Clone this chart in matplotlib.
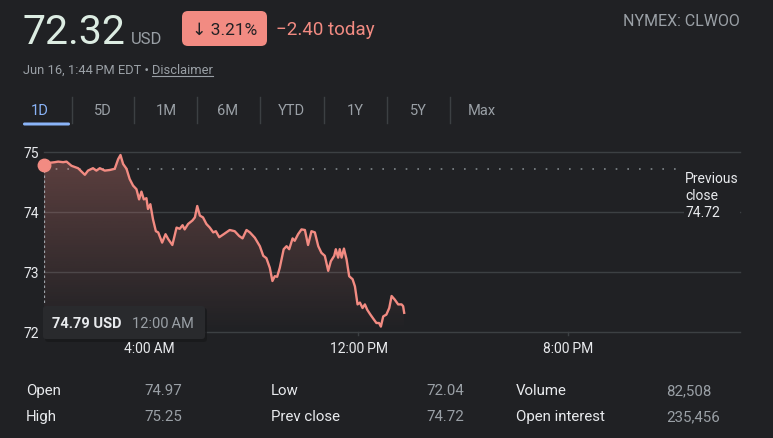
import matplotlib
matplotlib.use("Agg")
import matplotlib.pyplot as plt
import numpy as np
from matplotlib.patches import FancyBboxPatch

plt.rcParams['font.family'] = ['Roboto', 'DejaVu Sans']

# ---------------- data ----------------
hours = [0.00, 0.22, 0.41, 0.54, 0.73, 0.86, 1.05, 1.30, 1.56, 1.68, 1.87, 2.00, 2.13, 2.32, 2.51,
         2.70, 2.83, 2.92, 3.02, 3.15, 3.27, 3.40, 3.53, 3.63, 3.72, 3.81, 3.91, 3.97, 4.06, 4.16,
         4.27, 4.36, 4.51, 4.64, 4.74, 4.90, 5.06, 5.18, 5.29, 5.37, 5.50, 5.67, 5.76, 5.85, 5.95,
         6.07, 6.20, 6.33, 6.46, 6.56, 6.69, 6.86, 7.09, 7.28, 7.45, 7.58, 7.73, 7.86, 8.05, 8.24,
         8.37, 8.49, 8.62, 8.72, 8.81, 8.90, 9.00, 9.15, 9.26, 9.36, 9.49, 9.57, 9.70, 9.83, 9.96,
         10.08, 10.21, 10.34, 10.47, 10.59, 10.72, 10.85, 10.95, 11.08, 11.14, 11.23, 11.29, 11.36,
         11.45, 11.55, 11.65, 11.78, 11.87, 11.97, 12.06, 12.16, 12.25, 12.34, 12.46, 12.59, 12.69,
         12.79, 12.86, 12.95, 13.07, 13.18, 13.27, 13.39, 13.52, 13.65, 13.71, 13.75]
prices = [74.79, 74.82, 74.83, 74.84, 74.83, 74.84, 74.77, 74.73, 74.62, 74.69, 74.73, 74.69, 74.73, 74.69, 74.70,
          74.72, 74.88, 74.95, 74.80, 74.72, 74.55, 74.44, 74.38, 74.21, 74.34, 74.21, 74.23, 74.05, 74.13, 73.88,
          73.68, 73.66, 73.49, 73.63, 73.55, 73.45, 73.74, 73.72, 73.78, 73.71, 73.80, 73.86, 73.91, 74.10, 73.94,
          73.91, 73.80, 73.74, 73.66, 73.68, 73.58, 73.63, 73.70, 73.68, 73.60, 73.56, 73.70, 73.66, 73.57, 73.43,
          73.27, 73.23, 73.07, 72.85, 72.93, 72.92, 73.07, 73.38, 73.43, 73.38, 73.56, 73.52, 73.63, 73.71, 73.70,
          73.45, 73.68, 73.66, 73.43, 73.32, 73.27, 73.02, 73.18, 73.27, 73.38, 73.24, 73.38, 73.24,
          73.39, 73.21, 72.93, 72.88, 72.76, 72.46, 72.49, 72.40, 72.46, 72.37, 72.29, 72.21, 72.15,
          72.15, 72.09, 72.26, 72.29, 72.40, 72.60, 72.54, 72.46, 72.46, 72.43, 72.32]

y_ticks = [72, 73, 74, 75]
x_ticks = [4, 12, 20]
x_tick_labels = ["4:00\u2009AM", "12:00\u2009PM", "8:00\u2009PM"]
prev_close = 74.72

tabs = ["1D", "5D", "1M", "6M", "YTD", "1Y", "5Y", "Max"]
stat_labels = [["Open", "High"], ["Low", "Prev close"], ["Volume", "Open interest"]]
stat_values = [["74.97", "75.25"], ["72.04", "74.72"], ["82,508", "235,456"]]

# ---------------- styling ----------------
BG = "#202124"
SALMON = "#f28b82"
GRAY = "#9aa0a6"
WHITE = "#e8eaed"
GRID = "#3c4043"
BLUE = "#8ab4f8"

W, H = 773, 439
fig = plt.figure(figsize=(W / 100, H / 100), dpi=100, facecolor=BG)

def fx(x):
    return x / W

def fy(y):
    return 1 - y / H

# chart axes: pixel x 44..740, y 153 (75) .. 333 (72)
ax = fig.add_axes([fx(44), fy(333), (740 - 44) / W, (333 - 153) / H])
ax.set_xlim(0, 26.57)
ax.set_ylim(72, 75)
for s in ax.spines.values():
    s.set_visible(False)
ax.set_xticks([])
ax.set_yticks([])
ax.patch.set_alpha(0)

for yv in y_ticks:
    ax.axhline(yv, color=GRID, lw=1, zorder=1, clip_on=False)

for xv in x_ticks[1:]:
    ax.plot([xv, xv], [72, 71.95], color=GRID, lw=1, clip_on=False, zorder=1)

ax.plot([0, 24.2], [prev_close, prev_close], color="#80868b", lw=1.2,
        linestyle=(0, (1, 6)), zorder=2)

hx = np.array(hours)
py = np.array(prices)
poly_x = np.concatenate([hx, [hx[-1], hx[0]]])
poly_y = np.concatenate([py, [72, 72]])
fill = ax.fill(poly_x, poly_y, facecolor="none", edgecolor="none")[0]
grad = np.linspace(0.30, 0.0, 256).reshape(-1, 1)
rgba = np.zeros((256, 1, 4))
c = matplotlib.colors.to_rgb(SALMON)
rgba[..., 0] = c[0]
rgba[..., 1] = c[1]
rgba[..., 2] = c[2]
rgba[..., 3] = grad
im = ax.imshow(rgba, extent=[0, hx[-1], 72, 75], aspect="auto", origin="upper", zorder=2)
im.set_clip_path(fill)

ax.plot(hx, py, color=SALMON, lw=1.7, zorder=4, solid_joinstyle="round")

ax.plot([0, 0], [prices[0], 72.45], color="#9aa0a6", lw=0.9, linestyle=(0, (2, 2)), zorder=3)
ax.plot([hx[0]], [py[0]], 'o', color=SALMON, ms=9, zorder=5, clip_on=False)

# ---------------- overlay in pixel coords ----------------
ov = fig.add_axes([0, 0, 1, 1], zorder=10)
ov.set_xlim(0, W)
ov.set_ylim(H, 0)
ov.axis("off")
ov.patch.set_alpha(0)

for yv in y_ticks:
    ypix = 153 + (75 - yv) * 60
    ov.text(24, ypix + 1, str(yv), color=WHITE, fontsize=10, ha="left", va="center")

for xv, lab in zip(x_ticks, x_tick_labels):
    xpix = 44.25 + xv * 26.19
    ov.text(xpix, 349, lab, color=WHITE, fontsize=10, ha="center", va="center")

ov.text(685, 196, "Previous\nclose\n74.72", color=WHITE, fontsize=10, ha="left", va="center",
        linespacing=1.3, bbox=dict(boxstyle="square,pad=0.1", fc=BG, ec="none"))

# tooltip
shadow = FancyBboxPatch((45, 309), 162, 34, boxstyle="round,pad=0,rounding_size=3",
                        fc="#18191b", ec="none", alpha=0.8)
ov.add_patch(shadow)
tip = FancyBboxPatch((43, 307), 162, 33, boxstyle="round,pad=0,rounding_size=3",
                     fc="#292a2d", ec="none")
ov.add_patch(tip)
ov.text(52, 324, "74.79 USD", color=WHITE, fontsize=10.5, fontweight="bold", ha="left", va="center")
ov.text(132, 324, "12:00\u2009AM", color=GRAY, fontsize=10.5, ha="left", va="center")

# header
ov.text(22, 44, "72.32", color="#dcece2", fontsize=29.5, ha="left", va="baseline")
ov.text(131, 44, "USD", color=GRAY, fontsize=12, ha="left", va="baseline")
badge = FancyBboxPatch((182, 12), 85, 35, boxstyle="round,pad=0,rounding_size=6",
                       fc=SALMON, ec="none")
ov.add_patch(badge)
ov.text(224.5, 30, "\u2193 3.21%", color="#202124", fontsize=12.5, ha="center", va="center")
ov.text(276, 30, "\u22122.40 today", color=SALMON, fontsize=13.5, ha="left", va="center")
ov.text(740, 22, "NYMEX: CLWOO", color=GRAY, fontsize=11.5, ha="right", va="center")

t1 = ov.text(23, 70, "Jun 16, 1:44\u2009PM EDT \u2022 ", color=GRAY, fontsize=9.3, ha="left", va="center")
fig.canvas.draw()
bb = t1.get_window_extent()
inv = ov.transData.inverted()
disc_x, _ = inv.transform((bb.x1, 0))
t2 = ov.text(disc_x, 70, "Disclaimer", color=GRAY, fontsize=9.3, ha="left", va="center")
fig.canvas.draw()
d_bb = t2.get_window_extent()
xa, _ = inv.transform((d_bb.x0, 0))
xb, _ = inv.transform((d_bb.x1, 0))
ov.plot([xa, xb], [77, 77], color=GRAY, lw=0.8)

# tabs
tab_x = [40, 103, 166, 228, 291, 355, 418, 482]
sep_x = [72, 134, 197, 260, 324, 387, 450]
for i, (t, x) in enumerate(zip(tabs, tab_x)):
    ov.text(x, 111, t, color=BLUE if i == 0 else GRAY, fontsize=10.5, ha="center", va="center")
for x in sep_x:
    ov.plot([x, x], [98, 124], color=GRID, lw=1)
ov.add_patch(FancyBboxPatch((23, 123.5), 47, 3, boxstyle="round,pad=0,rounding_size=1.5",
                            fc=BLUE, ec="none"))

# stats
col_label_x = [26, 271, 516]
col_value_x = [144, 426, 666]
row_y = [391, 417]
for ci in range(3):
    for ri in range(2):
        ov.text(col_label_x[ci], row_y[ri], stat_labels[ci][ri], color=WHITE, fontsize=10.8,
                ha="left", va="center")
        ov.text(col_value_x[ci], row_y[ri], stat_values[ci][ri], color=GRAY, fontsize=10.8,
                ha="left", va="center")

fig.savefig("out.png", dpi=100, facecolor=BG)
